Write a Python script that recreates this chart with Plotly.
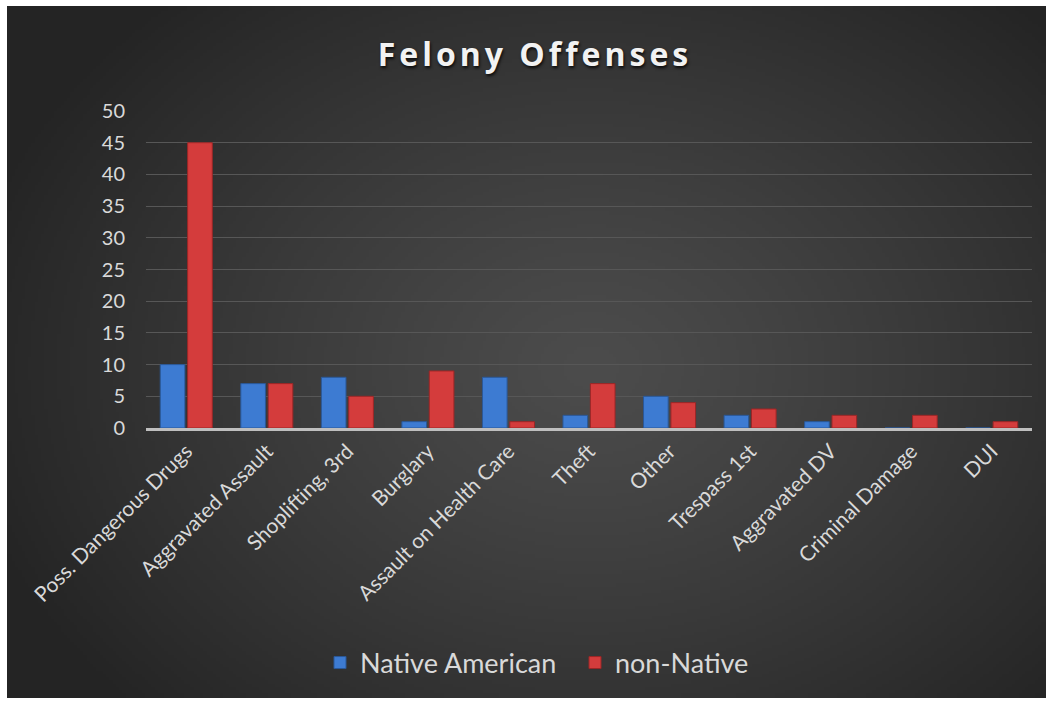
import base64
import struct
import zlib

import numpy as np
import plotly.graph_objects as go

# Felony offense counts by group
categories = [
    "Poss. Dangerous Drugs", "Aggravated Assault", "Shoplifting, 3rd", "Burglary",
    "Assault on Health Care", "Theft", "Other", "Trespass 1st", "Aggravated DV",
    "Criminal Damage", "DUI",
]
native_american = [10, 7, 8, 1, 8, 2, 5, 2, 1, 0, 0]
non_native = [45, 7, 5, 9, 1, 7, 4, 3, 2, 2, 1]
y_ticks = [0, 5, 10, 15, 20, 25, 30, 35, 40, 45, 50]

W, H = 1049, 703


def png_uri(rgb):
    """Encode an HxWx3 uint8 array as a PNG data URI."""
    h, w, _ = rgb.shape
    raw = b"".join(b"\x00" + rgb[r].tobytes() for r in range(h))

    def chunk(tag, data):
        return (struct.pack(">I", len(data)) + tag + data
                + struct.pack(">I", zlib.crc32(tag + data) & 0xFFFFFFFF))

    png = (b"\x89PNG\r\n\x1a\n"
           + chunk(b"IHDR", struct.pack(">IIBBBBB", w, h, 8, 2, 0, 0, 0))
           + chunk(b"IDAT", zlib.compress(raw, 9))
           + chunk(b"IEND", b""))
    return "data:image/png;base64," + base64.b64encode(png).decode()


# Dark radial backdrop, lighter in the middle
gw, gh = 320, 214
yy, xx = np.mgrid[0:gh, 0:gw].astype(float)
t = np.sqrt(((xx / gw - 0.56) / 0.62) ** 2 + ((yy / gh - 0.52) / 0.72) ** 2)
t = np.clip(t, 0, 1)
inner, outer = 76.0, 36.0
val = (inner + (outer - inner) * t ** 1.2).astype(np.uint8)
bg = np.dstack([val, val, val])
bg_uri = png_uri(bg)

fig = go.Figure()
fig.add_trace(go.Bar(
    name="Native American", x=categories, y=native_american,
    marker=dict(color="#3d7bd2", line=dict(color="#2a5898", width=1)),
))
fig.add_trace(go.Bar(
    name="non-Native", x=categories, y=non_native,
    marker=dict(color="#d43c3c", line=dict(color="#9c2626", width=1)),
))

x0, x1 = 146, 1032
y_top, y_bot = 111, 428

fig.update_layout(
    width=W, height=H,
    margin=dict(l=0, r=0, t=0, b=0, autoexpand=False),
    paper_bgcolor="white",
    plot_bgcolor="rgba(0,0,0,0)",
    barmode="group", bargap=0.32, bargroupgap=0.1,
    font=dict(family="Lato, 'Open Sans', sans-serif", color="#d9d9d9"),
    title=dict(
        text='<span style="letter-spacing:4px">Felony Offenses</span>',
        x=535 / W, xanchor="center",
        y=1 - 55 / H, yanchor="middle",
        font=dict(family="'Open Sans', sans-serif", size=32, color="#f2f2f2",
                  weight="bold", shadow="1px 2px 3px rgba(0,0,0,0.8)"),
    ),
    xaxis=dict(
        domain=[x0 / W, x1 / W],
        automargin=False,
        tickangle=-45,
        tickfont=dict(size=21, color="#d9d9d9"),
        showline=True, linecolor="#bfbfbf", linewidth=2.5,
        showgrid=False, ticks="",
    ),
    yaxis=dict(
        domain=[1 - y_bot / H, 1 - y_top / H],
        automargin=False,
        range=[0, 50],
        tickvals=y_ticks,
        tickfont=dict(size=20, color="#d9d9d9"),
        showgrid=True, gridcolor="#575757", gridwidth=1,
        zeroline=False, ticks="", ticklabelstandoff=20,
    ),
    legend=dict(
        orientation="h",
        x=575 / W, xanchor="center",
        y=1 - 663 / H, yanchor="middle",
        font=dict(size=27, color="#d9d9d9"),
        bgcolor="rgba(0,0,0,0)",
        itemwidth=30,
        entrywidth=210,
    ),
    images=[dict(
        source=bg_uri, xref="paper", yref="paper",
        x=7 / W, y=1 - 6 / H,
        sizex=(1046 - 7) / W, sizey=(698 - 6) / H,
        xanchor="left", yanchor="top",
        sizing="stretch", layer="below",
    )],
)

fig.write_html("out.html")
